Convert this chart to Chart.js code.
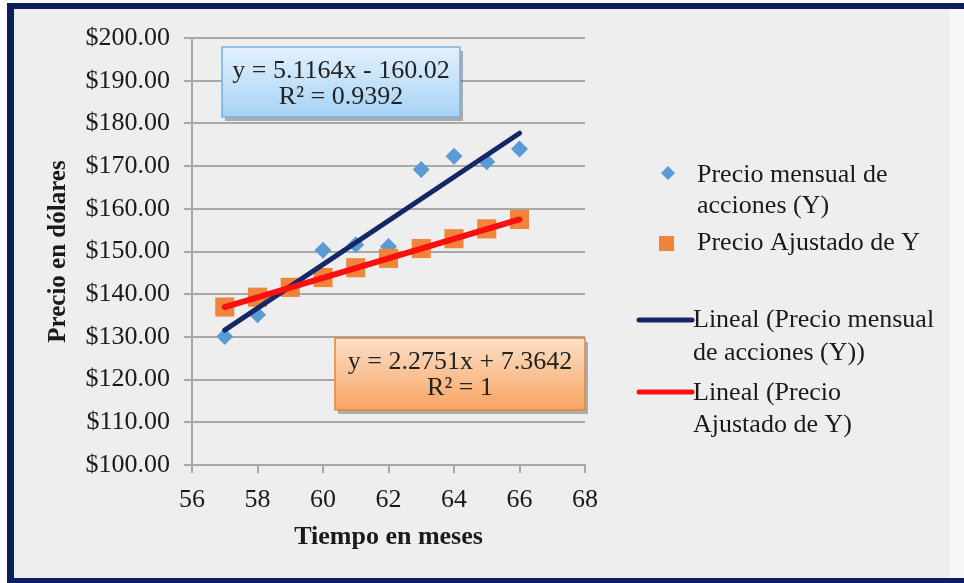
<!DOCTYPE html>
<html>
<head>
<meta charset="utf-8">
<script src="https://cdn.jsdelivr.net/npm/chart.js@4.4.1/dist/chart.umd.min.js"></script>
<style>
  html, body { margin: 0; padding: 0; background: #ffffff; }
  #wrap { position: relative; width: 964px; height: 583px; overflow: hidden; }
  #frame {
    position: absolute; left: 7px; top: 3px; width: 950px; height: 569px;
    background: #eeeeee;
    border-left: 7px solid #0b1f5c; border-top: 6px solid #0b1f5c; border-bottom: 5px solid #0b1f5c;
  }
  #strip { position: absolute; left: 950px; top: 9px; width: 14px; height: 569px; background: #f7f5f8; }
  #chart { position: absolute; left: 0; top: 0; }
</style>
</head>
<body>
<div id="wrap">
  <div id="frame"></div>
  <div id="strip"></div>
  <canvas id="chart" width="964" height="583"></canvas>
</div>
<script>
// valores
const meses = [57, 58, 59, 60, 61, 62, 63, 64, 65, 66];
const precioMensual = [130.1, 135.2, 141.6, 150.3, 151.6, 151.2, 169.2, 172.3, 171.0, 174.0];
const precioAjustado = [137.0, 139.3, 141.6, 143.9, 146.2, 148.4, 150.7, 153.0, 155.3, 157.5];
// extremos de las lineas de tendencia
const tendX = [57, 66];
const tendMensual = [131.6, 177.7];
const tendAjustado = [137.0, 157.5];

const ecuaciones = [
  ['y = 5.1164x - 160.02', 'R² = 0.9392'],
  ['y = 2.2751x + 7.3642', 'R² = 1']
];
const leyenda = [
  ['Precio mensual de', 'acciones (Y)'],
  ['Precio Ajustado de Y'],
  ['Lineal (Precio mensual', 'de acciones (Y))'],
  ['Lineal (Precio', 'Ajustado de Y)']
];

const SERIF = '"Liberation Serif", "Times New Roman", serif';
const AZUL = '#5b9bd5', NARANJA = '#f0843a', MARINO = '#142766', ROJO = '#fb1010';
const GRID = '#a8a8a8';

function pts(xs, ys){ return xs.map((x, i) => ({x: x, y: ys[i]})); }

function box(ctx, x, y, w, h, c1, c2, border){
  ctx.save();
  ctx.fillStyle = 'rgba(90,90,90,0.45)';
  ctx.fillRect(x + 3, y + 4, w, h);
  const g = ctx.createLinearGradient(0, y, 0, y + h);
  g.addColorStop(0, c1); g.addColorStop(1, c2);
  ctx.fillStyle = g;
  ctx.fillRect(x, y, w, h);
  ctx.strokeStyle = border; ctx.lineWidth = 1.5;
  ctx.strokeRect(x, y, w, h);
  ctx.restore();
}

const extras = {
  id: 'extras',
  afterDatasetsDraw(chart){
    const ctx = chart.ctx;
    // cuadros de ecuaciones
    box(ctx, 222, 47, 238, 70, '#e3f2fd', '#a6d2f4', '#7aaedb');
    box(ctx, 335, 338, 250, 72, '#fde0c8', '#f7a462', '#e0883d');
    ctx.save();
    ctx.font = '26px ' + SERIF;
    ctx.fillStyle = '#222222';
    ctx.textAlign = 'center';
    ctx.textBaseline = 'middle';
    ctx.fillText(ecuaciones[0][0], 341, 71);
    ctx.fillText(ecuaciones[0][1], 341, 97);
    ctx.fillText(ecuaciones[1][0], 460, 362);
    ctx.fillText(ecuaciones[1][1], 460, 388);

    // leyenda
    const ds = chart.data.datasets;
    ctx.textAlign = 'left';
    // diamante
    ctx.fillStyle = ds[3].backgroundColor;
    ctx.beginPath();
    ctx.moveTo(668, 166); ctx.lineTo(675, 173); ctx.lineTo(668, 180); ctx.lineTo(661, 173);
    ctx.closePath(); ctx.fill();
    // cuadrado
    ctx.fillStyle = ds[2].backgroundColor;
    ctx.fillRect(659, 236, 15, 15);
    // lineas
    ctx.lineCap = 'round';
    ctx.strokeStyle = ds[1].borderColor; ctx.lineWidth = 5;
    ctx.beginPath(); ctx.moveTo(639, 320); ctx.lineTo(692, 320); ctx.stroke();
    ctx.strokeStyle = ds[0].borderColor; ctx.lineWidth = 5;
    ctx.beginPath(); ctx.moveTo(639, 392); ctx.lineTo(692, 392); ctx.stroke();

    ctx.fillStyle = '#1a1a1a';
    ctx.fillText(leyenda[0][0], 697, 175);
    ctx.fillText(leyenda[0][1], 697, 206);
    ctx.fillText(leyenda[1][0], 697, 243);
    ctx.fillText(leyenda[2][0], 693, 320);
    ctx.fillText(leyenda[2][1], 693, 353);
    ctx.fillText(leyenda[3][0], 693, 393);
    ctx.fillText(leyenda[3][1], 693, 425);
    ctx.restore();
  }
};

const chart = new Chart(document.getElementById('chart'), {
  type: 'scatter',
  data: {
    datasets: [
      {
        label: 'Lineal (Precio Ajustado de Y)',
        type: 'line',
        data: pts(tendX, tendAjustado),
        borderColor: ROJO, borderWidth: 6, pointRadius: 0, showLine: true,
        borderCapStyle: 'round', order: 1
      },
      {
        label: 'Lineal (Precio mensual de acciones (Y))',
        type: 'line',
        data: pts(tendX, tendMensual),
        borderColor: MARINO, borderWidth: 5, pointRadius: 0, showLine: true,
        borderCapStyle: 'round', order: 2
      },
      {
        label: 'Precio Ajustado de Y',
        data: pts(meses, precioAjustado),
        pointStyle: 'rect', pointRadius: 13.5, pointHoverRadius: 13.5,
        backgroundColor: NARANJA, borderColor: NARANJA, borderWidth: 0, order: 3
      },
      {
        label: 'Precio mensual de acciones (Y)',
        data: pts(meses, precioMensual),
        pointStyle: 'rectRot', pointRadius: 8.5, pointHoverRadius: 8.5,
        backgroundColor: AZUL, borderColor: AZUL, borderWidth: 0, order: 4
      }
    ]
  },
  options: {
    responsive: false,
    animation: false,
    layout: { padding: { left: 30, top: 38, right: 379, bottom: 23 } },
    plugins: { legend: { display: false }, tooltip: { enabled: false } },
    scales: {
      x: {
        type: 'linear', min: 56, max: 68,
        ticks: { stepSize: 2, color: '#1a1a1a', padding: 12, font: { family: SERIF, size: 26 } },
        grid: { drawOnChartArea: false, color: GRID, lineWidth: 2, tickLength: 8 },
        border: { color: GRID, width: 2 },
        title: { display: true, text: 'Tiempo en meses', color: '#1a1a1a', padding: { top: 0, bottom: 7 },
                 font: { family: SERIF, size: 26, weight: 'bold' } },
        afterFit(s){ s.height = 95; }
      },
      y: {
        min: 100, max: 200,
        ticks: { stepSize: 10, color: '#1a1a1a', padding: 14, font: { family: SERIF, size: 26 },
                 callback: v => '$' + v.toFixed(2) },
        grid: { color: GRID, lineWidth: 2, tickLength: 8 },
        border: { color: GRID, width: 2 },
        title: { display: true, text: 'Precio en dólares', color: '#1a1a1a', padding: { top: 14, bottom: 14 },
                 font: { family: SERIF, size: 25, weight: 'bold' } },
        afterFit(s){ s.width = 162; }
      }
    }
  },
  plugins: [extras]
});
</script>
</body>
</html>
